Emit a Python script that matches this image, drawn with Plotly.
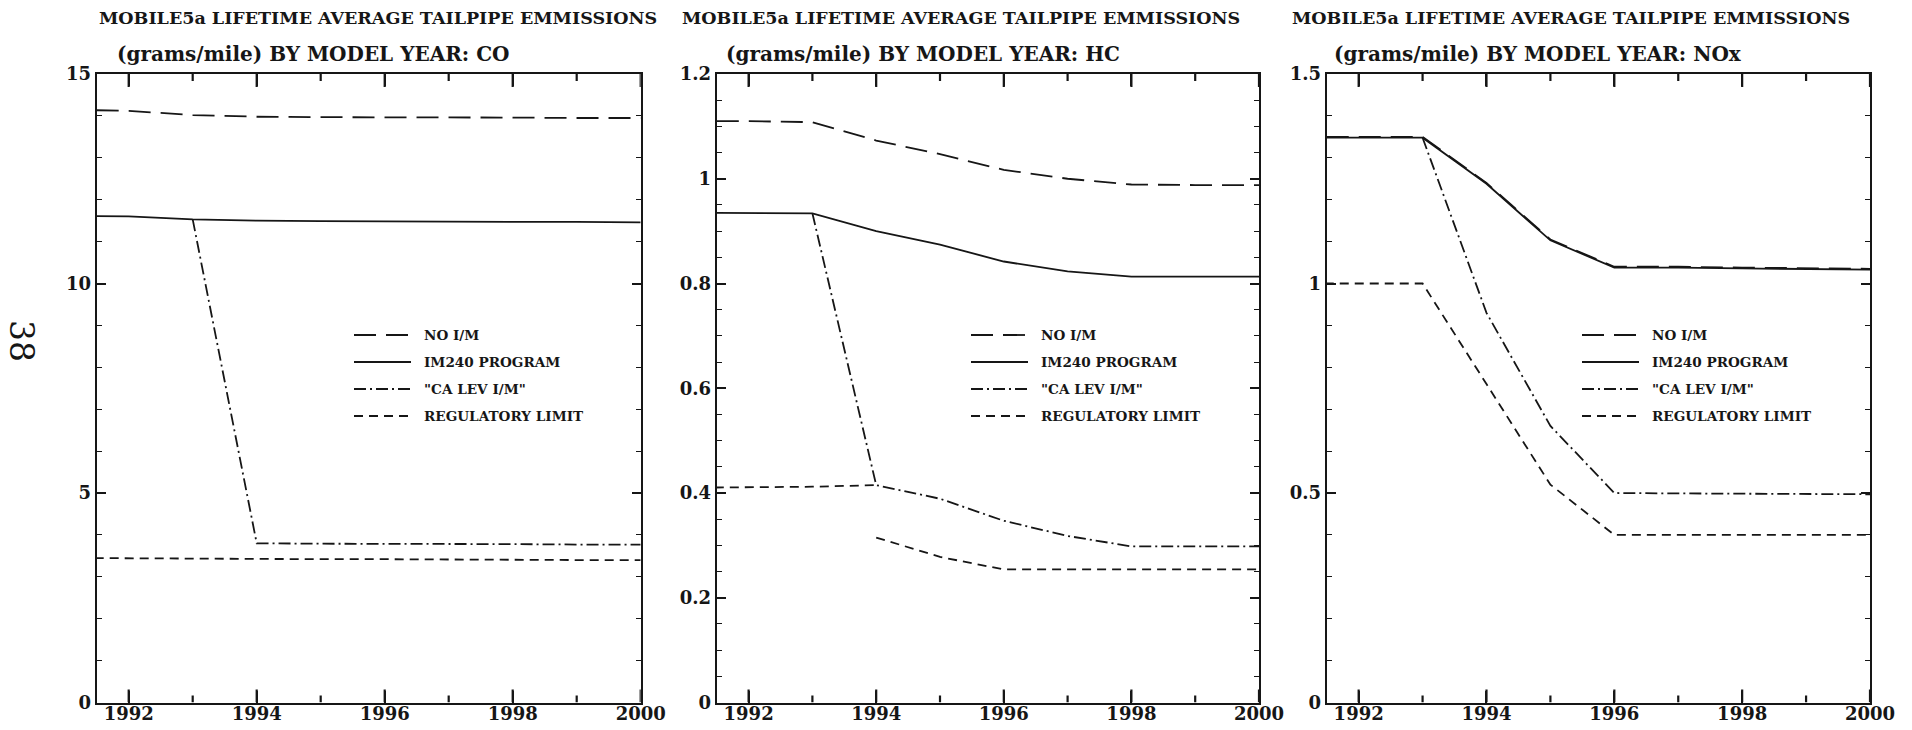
import plotly.graph_objects as go

# ---- data -------------------------------------------------------------
years = [1991, 1992, 1993, 1994, 1995, 1996, 1997, 1998, 1999, 2000]
lev_years = [1993, 1994, 1995, 1996, 1997, 1998, 1999, 2000]

# CO (grams/mile)
co_no_im = [14.15, 14.12, 14.02, 13.98, 13.97, 13.97, 13.96, 13.96, 13.95, 13.95]
co_im240 = [11.62, 11.60, 11.53, 11.50, 11.49, 11.48, 11.48, 11.47, 11.47, 11.46]
co_ca_lev = [11.53, 3.80, 3.79, 3.79, 3.78, 3.78, 3.77, 3.77]
co_reg = [3.45, 3.44, 3.43, 3.43, 3.42, 3.42, 3.41, 3.41, 3.40, 3.40]

# HC (grams/mile)
hc_no_im = [1.110, 1.110, 1.108, 1.073, 1.047, 1.017, 1.000, 0.989, 0.988, 0.988]
hc_im240 = [0.935, 0.935, 0.934, 0.900, 0.874, 0.842, 0.823, 0.813, 0.813, 0.813]
hc_ca_lev = [0.934, 0.415, 0.389, 0.347, 0.318, 0.298, 0.298, 0.298]
hc_reg_years_a = [1991, 1992, 1993, 1994]
hc_reg_a = [0.410, 0.411, 0.412, 0.415]
hc_reg_years_b = [1994, 1995, 1996, 1997, 1998, 1999, 2000]
hc_reg_b = [0.315, 0.278, 0.254, 0.254, 0.254, 0.254, 0.254]

# NOx (grams/mile)
nox_no_im = [1.350, 1.350, 1.350, 1.240, 1.105, 1.040, 1.040, 1.038, 1.036, 1.035]
nox_im240 = [1.348, 1.348, 1.348, 1.238, 1.103, 1.038, 1.038, 1.036, 1.034, 1.033]
nox_ca_lev = [1.348, 0.930, 0.660, 0.500, 0.499, 0.498, 0.497, 0.497]
nox_reg = [1.00, 1.00, 1.00, 0.76, 0.52, 0.40, 0.40, 0.40, 0.40, 0.40]

# year ticks along the frame (major on even years, minor on odd years)
tick_years = [1992, 1993, 1994, 1995, 1996, 1997, 1998, 1999, 2000]

title_line1 = "MOBILE5a LIFETIME AVERAGE TAILPIPE EMMISSIONS"
title_line2 = ["(grams/mile) BY MODEL YEAR: CO",
               "(grams/mile) BY MODEL YEAR: HC",
               "(grams/mile) BY MODEL YEAR: NOx"]
legend_names = ["NO I/M", "IM240 PROGRAM", "\"CA LEV I/M\"", "REGULATORY LIMIT"]

# ---- styling ----------------------------------------------------------
W, H = 1912, 730
INK = "#161616"
SERIF = "DejaVu Serif, Liberation Serif, serif"
LW = 1.8
DASH_NOIM = "22px,10px"
DASH_SOLID = "solid"
DASH_LEV = "12px,4px,2px,4px"
DASH_REG = "9px,6px"
styles = [DASH_NOIM, DASH_SOLID, DASH_LEV, DASH_REG]

# panel pixel boxes (left, right); shared top/bottom
panels_px = [(96.7, 640.7), (716.7, 1259.0), (1326.7, 1870.0)]
top_px, bottom_px = 74.0, 702.5
panel_h = bottom_px - top_px


def px_x(v):
    return v / W


def px_y(v):
    return 1 - v / H


fig = go.Figure()


def add_line(ax, x, y, dash):
    fig.add_trace(go.Scatter(
        x=x, y=y, mode="lines", xaxis="x" + ax, yaxis="y" + ax,
        line=dict(color=INK, width=LW, dash=dash),
        connectgaps=False, showlegend=False, hoverinfo="x+y"))


# CO panel
add_line("", years, co_no_im, DASH_NOIM)
add_line("", years, co_im240, DASH_SOLID)
add_line("", lev_years, co_ca_lev, DASH_LEV)
add_line("", years, co_reg, DASH_REG)

# HC panel
add_line("2", years, hc_no_im, DASH_NOIM)
add_line("2", years, hc_im240, DASH_SOLID)
add_line("2", lev_years, hc_ca_lev, DASH_LEV)
add_line("2", hc_reg_years_a + [None] + hc_reg_years_b,
         hc_reg_a + [None] + hc_reg_b, DASH_REG)

# NOx panel
add_line("3", years, nox_no_im, DASH_NOIM)
add_line("3", years, nox_im240, DASH_SOLID)
add_line("3", lev_years, nox_ca_lev, DASH_LEV)
add_line("3", years, nox_reg, DASH_REG)

y_ranges = [(0, 15), (0, 1.2), (0, 1.5)]
y_dticks = [5, 0.2, 0.5]
y_minor = [1, 0.05, 0.1]
tick_font = dict(family=SERIF, size=18, color=INK, weight="bold")

layout = dict(
    template="none",
    width=W, height=H,
    margin=dict(l=0, r=0, t=0, b=0, pad=0, autoexpand=False),
    paper_bgcolor="white", plot_bgcolor="white",
    showlegend=False,
)

shapes = []
annotations = []

for i, ((l, r), yr, ydt, ym) in enumerate(zip(panels_px, y_ranges, y_dticks, y_minor)):
    suffix = "" if i == 0 else str(i + 1)
    layout["xaxis" + suffix] = dict(
        domain=[px_x(l), px_x(r)], range=[1991.5, 2000],
        anchor="y" + suffix, automargin=False,
        tick0=1992, dtick=2, ticks="inside", ticklen=12, tickwidth=2,
        tickcolor=INK, mirror="allticks", showline=True, linewidth=2,
        linecolor=INK, showgrid=False, zeroline=False,
        tickfont=tick_font, ticklabelstandoff=-6,
    )
    layout["yaxis" + suffix] = dict(
        domain=[px_y(bottom_px), px_y(top_px)], range=list(yr),
        anchor="x" + suffix, automargin=False,
        tick0=0, dtick=ydt, ticks="inside", ticklen=9, tickwidth=1.5,
        tickcolor=INK, mirror="allticks", showline=True, linewidth=2,
        linecolor=INK, showgrid=False, zeroline=False,
        tickfont=tick_font, ticklabelstandoff=0,
        minor=dict(dtick=ym, tick0=0, ticks="inside", ticklen=5,
                   tickwidth=1.3, tickcolor=INK, showgrid=False),
    )
    # year tick marks on the bottom and top frame, pointing inward
    ymin, ymax = yr
    per_px = (ymax - ymin) / panel_h
    tx, ty = [], []
    for t in tick_years:
        tl = (13 if t % 2 == 0 else 7) * per_px
        tx += [t, t, None, t, t, None]
        ty += [ymin, ymin + tl, None, ymax - tl, ymax, None]
    fig.add_trace(go.Scatter(
        x=tx, y=ty, mode="lines", xaxis="x" + suffix, yaxis="y" + suffix,
        line=dict(color=INK, width=2.2), connectgaps=False, cliponaxis=False,
        showlegend=False, hoverinfo="skip"))

# titles
title_l1_x = [97, 680, 1290]
title_l2_x = [115, 724, 1332]
for i in range(3):
    annotations.append(dict(
        xref="paper", yref="paper", x=px_x(title_l1_x[i]), y=px_y(18),
        xanchor="left", yanchor="middle", showarrow=False,
        text=title_line1,
        font=dict(family=SERIF, size=17.5, color=INK, weight="bold")))
    annotations.append(dict(
        xref="paper", yref="paper", x=px_x(title_l2_x[i]), y=px_y(54),
        xanchor="left", yanchor="middle", showarrow=False,
        text=title_line2[i],
        font=dict(family=SERIF, size=20, color=INK, weight="bold")))

# in-panel keys
key_x0 = [354, 971, 1582]
key_rows = [335, 362, 389, 416]
for i in range(3):
    x0 = key_x0[i]
    for name, dash, yrow in zip(legend_names, styles, key_rows):
        shapes.append(dict(
            type="line", xref="paper", yref="paper",
            x0=px_x(x0), x1=px_x(x0 + 57), y0=px_y(yrow), y1=px_y(yrow),
            line=dict(color=INK, width=LW, dash=dash)))
        annotations.append(dict(
            xref="paper", yref="paper", x=px_x(x0 + 68), y=px_y(yrow),
            xanchor="left", yanchor="middle", showarrow=False,
            text=name, font=dict(family=SERIF, size=13.6, color=INK, weight="bold")))

# page number
annotations.append(dict(
    xref="paper", yref="paper", x=px_x(22), y=px_y(341),
    xanchor="center", yanchor="middle", showarrow=False, textangle=90,
    text="38", font=dict(family=SERIF, size=33, color=INK)))

layout["annotations"] = annotations
layout["shapes"] = shapes
fig.update_layout(**layout)

fig.write_html("out.html")
